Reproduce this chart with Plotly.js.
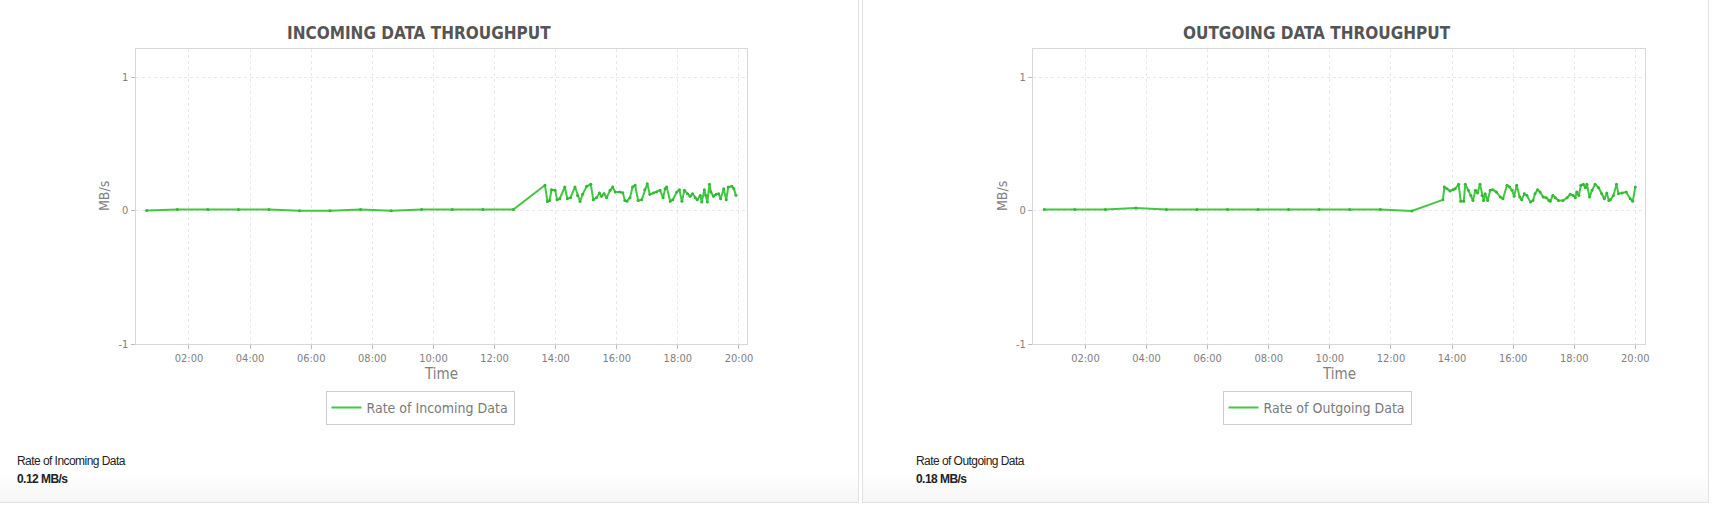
<!DOCTYPE html>
<html>
<head>
<meta charset="utf-8">
<script src="https://cdn.plot.ly/plotly-3.0.1.min.js"></script>
<style>
  html, body { margin: 0; padding: 0; background: #fff; }
  #wrap { position: relative; width: 1714px; height: 506px; overflow: hidden; background: #fff; }
  #chart { position: absolute; left: 0; top: 0; width: 1714px; height: 506px; }
  .card { position: absolute; top: -2px; height: 505px; border: 1px solid #e2e2e2; border-top: none; box-sizing: border-box;
          background: linear-gradient(to bottom, rgba(255,255,255,0) 94%, rgba(240,240,240,0.6) 100%); }
  .lbl { position: absolute; font-family: "Liberation Sans", Arial, sans-serif; font-size: 12px; color: #222; letter-spacing: -0.55px; z-index: 5; }
  .val { font-weight: bold; }
</style>
</head>
<body>
<div id="wrap">
  <div class="card" style="left:-2px; width:861px;"></div>
  <div class="card" style="left:862px; width:847px;"></div>
  <div id="chart"></div>
  <div class="lbl" style="left:17px; top:454px;">Rate of Incoming Data</div>
  <div class="lbl val" style="left:17px; top:472px;">0.12 MB/s</div>
  <div class="lbl" style="left:916px; top:454px;">Rate of Outgoing Data</div>
  <div class="lbl val" style="left:916px; top:472px;">0.18 MB/s</div>
</div>
<script>
// ---- data ----
const day = "2024-01-01 ";
const incomingTimes = [
  "00:37","01:37","02:37","03:37","04:37","05:37","06:37","07:37","08:37","09:37","10:37","11:37","12:37",
  "13:39","13:44","13:48","13:52","13:59","14:03","14:08","14:18","14:23","14:29","14:38","14:43","14:48","14:53",
  "15:01","15:09","15:14","15:20","15:26","15:30","15:35","15:40","15:47","15:52","15:57","16:06","16:12","16:16",
  "16:20","16:26","16:31","16:36","16:42","16:49","16:55","17:00","17:05","17:12","17:18","17:25","17:31","17:35",
  "17:38","17:45","17:50","17:58","18:03","18:08","18:13","18:19","18:24","18:29","18:34","18:38","18:44","18:47",
  "18:52","18:55","18:58","19:02","19:05","19:10","19:15","19:20","19:24","19:30","19:35","19:39","19:46","19:50","19:54"
];
const incomingRate = [
  0.0,0.008,0.008,0.008,0.008,-0.002,-0.002,0.008,-0.002,0.008,0.008,0.008,0.008,
  0.189,0.068,0.075,0.156,0.151,0.080,0.088,0.176,0.088,0.096,0.176,0.113,0.068,0.121,
  0.181,0.196,0.080,0.096,0.131,0.106,0.126,0.096,0.151,0.176,0.138,0.138,0.133,0.075,
  0.070,0.096,0.176,0.189,0.075,0.080,0.156,0.201,0.121,0.131,0.138,0.151,0.096,0.163,
  0.176,0.070,0.080,0.138,0.156,0.070,0.151,0.126,0.106,0.126,0.096,0.080,0.113,0.063,
  0.156,0.113,0.063,0.196,0.138,0.106,0.121,0.126,0.088,0.163,0.080,0.176,0.181,0.163,0.115
];
const outgoingTimes = [
  "00:39","01:39","02:39","03:39","04:39","05:39","06:39","07:39","08:39","09:39","10:39","11:39","12:41",
  "13:42","13:45","13:50","13:56","14:02","14:06","14:13","14:17","14:23","14:26","14:32","14:37","14:41","14:46",
  "14:50","14:55","14:59","15:02","15:05","15:10","15:15","15:20","15:27","15:35","15:40","15:48","15:53","15:58",
  "16:02","16:07","16:13","16:17","16:22","16:27","16:34","16:39","16:43","16:48","16:53","16:59","17:05","17:10",
  "17:13","17:18","17:23","17:29","17:38","17:46","17:52","17:58","18:02","18:05","18:09","18:13","18:18","18:22",
  "18:25","18:30","18:35","18:41","18:48","18:54","18:59","19:04","19:08","19:11","19:17","19:23","19:27","19:34",
  "19:42","19:50","19:55","20:00"
];
const outgoingRate = [
  0.008,0.008,0.008,0.018,0.008,0.008,0.008,0.008,0.008,0.008,0.008,0.008,-0.003,
  0.080,0.176,0.163,0.146,0.156,0.163,0.196,0.070,0.070,0.196,0.151,0.113,0.075,0.151,
  0.131,0.196,0.113,0.075,0.126,0.075,0.151,0.156,0.138,0.101,0.088,0.189,0.176,0.151,
  0.106,0.189,0.101,0.080,0.126,0.113,0.063,0.075,0.126,0.156,0.138,0.101,0.096,0.075,
  0.070,0.113,0.096,0.075,0.075,0.096,0.121,0.113,0.096,0.138,0.113,0.189,0.196,0.171,
  0.196,0.101,0.151,0.196,0.171,0.126,0.088,0.131,0.075,0.080,0.113,0.196,0.126,0.131,
  0.138,0.088,0.070,0.176
];
const yTicks = [-1, 0, 1];
const yTickText = ["-1", "0", "1"];
const chartTitles = ["INCOMING DATA THROUGHPUT", "OUTGOING DATA THROUGHPUT"];
const seriesNames = ["Rate of Incoming Data", "Rate of Outgoing Data"];

// ---- chart ----
const green = "#40c840";
const fam = "'DejaVu Sans Condensed', 'DejaVu Sans', sans-serif";
const W = 1714, H = 506;
const toX = t => t.map(s => day + s);

const traces = [
  { x: toX(incomingTimes), y: incomingRate, name: seriesNames[0], type: "scatter", mode: "lines",
    line: { color: green, width: 2 }, xaxis: "x", yaxis: "y", legend: "legend" },
  { x: toX(incomingTimes), y: incomingRate, type: "scatter", mode: "markers", showlegend: false,
    marker: { color: "#33b833", size: 3 }, xaxis: "x", yaxis: "y", hoverinfo: "skip" },
  { x: toX(outgoingTimes), y: outgoingRate, name: seriesNames[1], type: "scatter", mode: "lines",
    line: { color: green, width: 2 }, xaxis: "x2", yaxis: "y2", legend: "legend2" },
  { x: toX(outgoingTimes), y: outgoingRate, type: "scatter", mode: "markers", showlegend: false,
    marker: { color: "#33b833", size: 3 }, xaxis: "x2", yaxis: "y2", hoverinfo: "skip" }
];

function xAx(domain, range, anchor) {
  return {
    type: "date", domain: domain, range: range, anchor: anchor,
    tick0: day + "02:00", dtick: 7200000, tickformat: "%H:%M",
    showgrid: true, gridcolor: "#e8e8e8", griddash: "3px,3px", gridwidth: 1,
    showline: true, linecolor: "#d8d8d8", linewidth: 1, mirror: true,
    ticks: "outside", ticklen: 4, tickcolor: "#bbbbbb",
    tickfont: { family: fam, size: 11, color: "#808080" }, zeroline: false, fixedrange: true
  };
}
function yAx(domain, anchor) {
  return {
    domain: domain, range: [-1, 1.21], anchor: anchor,
    tickvals: yTicks, ticktext: yTickText,
    showgrid: true, gridcolor: "#e8e8e8", griddash: "3px,3px", gridwidth: 1,
    showline: true, linecolor: "#d8d8d8", linewidth: 1, mirror: true,
    ticks: "outside", ticklen: 4, tickcolor: "#bbbbbb",
    tickfont: { family: fam, size: 11, color: "#808080" }, zeroline: false, fixedrange: true
  };
}

const yDom = [1 - 344 / H, 1 - 49 / H];
const x1Dom = [135.5 / W, 746.6 / W];
const x2Dom = [1033 / W, 1645 / W];

function legendAt(cx) {
  return { x: cx / W, y: 1 - 391 / H, xanchor: "center", yanchor: "top", orientation: "h",
    bordercolor: "#cccccc", borderwidth: 1, bgcolor: "#ffffff",
    font: { family: fam, size: 14, color: "#7a7a7a" }, itemwidth: 30, tracegroupgap: 0 };
}

const ann = [
  { text: "<b>" + chartTitles[0] + "</b>", x: 419 / W, y: 1 - 33 / H },
  { text: "<b>" + chartTitles[1] + "</b>", x: 1317 / W, y: 1 - 33 / H }
].map(a => Object.assign(a, { xref: "paper", yref: "paper", showarrow: false, xanchor: "center", yanchor: "middle",
  font: { family: fam, size: 17, color: "#555555" } }));

[[ (x1Dom[0] + x1Dom[1]) / 2 ], [ (x2Dom[0] + x2Dom[1]) / 2 ]].forEach(c => {
  ann.push({ text: "Time", x: c[0], y: 1 - 374 / H, xref: "paper", yref: "paper", showarrow: false,
    xanchor: "center", yanchor: "middle", font: { family: fam, size: 15, color: "#808080" } });
});
[104, 1002].forEach(px => {
  ann.push({ text: "MB/s", x: px / W, y: 1 - 196 / H, xref: "paper", yref: "paper", showarrow: false,
    textangle: -90, xanchor: "center", yanchor: "middle", font: { family: fam, size: 14, color: "#808080" } });
});

const layout = {
  width: W, height: H, margin: { l: 0, r: 0, t: 0, b: 0 },
  paper_bgcolor: "rgba(0,0,0,0)", plot_bgcolor: "rgba(0,0,0,0)",
  showlegend: true,
  xaxis: xAx(x1Dom, [day + "00:15", day + "20:15"], "y"),
  yaxis: yAx(yDom, "x"),
  xaxis2: xAx(x2Dom, [day + "00:17", day + "20:19"], "y2"),
  yaxis2: yAx(yDom, "x2"),
  legend: legendAt(420),
  legend2: legendAt(1317),
  annotations: ann
};

Plotly.newPlot("chart", traces, layout, { displayModeBar: false, staticPlot: true });
</script>
</body>
</html>
